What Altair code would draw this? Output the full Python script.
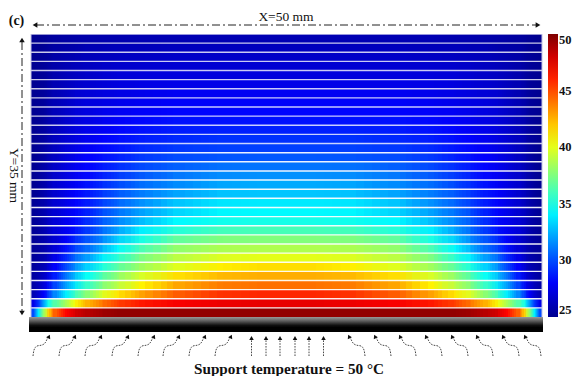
import altair as alt
import pandas as pd

# cell edges across the plate (left half, then mirrored), pixels of plot width
half_edges_px = [0, 5, 10, 15, 20, 30, 40, 50, 65, 80, 100, 130, 170, 210, 256]

# temperature read per strip (bottom strip first), left edge to centre, degC
strips = [
    [30,34,38,41,44.5,46.8,47.8,48.6,49.2,49.5,49.5,49.5,49.5,49.5],
    [27.5,29.5,32,34.5,36.5,38.5,40.5,42.5,44,45.3,46.3,47,47.3,47.4],
    [26,26.8,28,29.2,31.5,34,35.8,37.8,39.8,41.2,42.9,44.6,45.6,45.9],
    [25.7,26.2,27,27.9,29.8,32,33.8,35.7,37.6,39,40.9,42.8,43.8,44.1],
    [25.5,25.9,26.5,27.2,28.8,31,32.8,34.6,36.4,37.9,39.7,41.4,42.3,42.6],
    [25.4,25.7,26.1,26.7,28,29.9,31.6,33.3,35.1,36.6,38.3,39.9,41,41.4],
    [25.3,25.6,25.9,26.4,27.5,29.1,30.7,32,34,35.4,37.4,39,39.8,40],
    [25.3,25.5,25.8,26.2,27,28.5,29.7,30.8,32.5,34.3,36.2,38,38.6,38.7],
    [25.2,25.5,25.8,26.2,26.9,28,29.1,30.2,31.5,33.2,35,36.8,37.5,37.6],
    [25.2,25.5,25.9,26.4,27.1,27.8,28.5,29.5,30.8,32.1,34,35.3,36,36.1],
    [25.2,25.5,25.9,26.4,27,27.7,28.3,29.2,30.4,31.4,32.8,34.3,34.8,34.9],
    [25.2,25.5,25.9,26.3,26.9,27.6,28.1,28.9,30,30.9,32.1,33.4,34.2,34.3],
    [25.2,25.5,25.8,26.2,26.9,27.5,28.1,28.8,29.7,30.6,31.7,33,33.8,33.9],
    [25.1,25.4,25.8,26.2,26.8,27.5,28.1,28.7,29.5,30.3,31.2,32.2,32.9,33],
    [25.1,25.4,25.7,26.1,26.8,27.4,27.9,28.5,29.2,29.9,30.8,31.6,32.2,32.3],
    [25.1,25.4,25.7,26.1,26.7,27.3,27.8,28.3,28.9,29.5,30.3,31.1,31.6,31.7],
    [25.1,25.4,25.7,26,26.6,27.2,27.7,28.2,28.7,29.2,29.9,30.5,30.9,31],
    [25.1,25.3,25.6,26,26.5,27.1,27.6,28.1,28.5,28.9,29.5,30,30.2,30.3],
    [25.1,25.3,25.6,25.9,26.4,27,27.4,27.9,28.3,28.6,29.1,29.5,29.7,29.7],
    [25.1,25.3,25.5,25.9,26.4,26.9,27.3,27.7,28.1,28.4,28.8,29.1,29.3,29.3],
    [25.1,25.3,25.5,25.8,26.3,26.8,27.2,27.6,27.9,28.2,28.5,28.8,28.9,28.9],
    [25.1,25.2,25.5,25.8,26.2,26.7,27.1,27.4,27.7,28,28.3,28.5,28.5,28.5],
    [25.1,25.2,25.4,25.7,26.2,26.6,27,27.3,27.6,27.8,28,28.2,28.2,28.2],
    [25.1,25.2,25.4,25.7,26.1,26.5,26.9,27.2,27.4,27.6,27.8,28,28,28],
    [25.1,25.2,25.4,25.6,26,26.4,26.8,27,27.2,27.4,27.6,27.8,27.8,27.8],
    [25.1,25.2,25.3,25.6,26,26.3,26.6,26.8,27,27.2,27.4,27.5,27.5,27.5],
    [25.1,25.2,25.3,25.5,25.9,26.2,26.4,26.6,26.8,27,27.1,27.2,27.2,27.2],
    [25.1,25.2,25.3,25.5,25.8,26,26.2,26.4,26.6,26.7,26.8,26.9,26.9,26.9],
    [25.1,25.2,25.3,25.4,25.7,25.9,26,26.2,26.3,26.4,26.5,26.6,26.6,26.6],
    [25.1,25.1,25.2,25.4,25.6,25.7,25.8,26,26.1,26.2,26.2,26.3,26.3,26.3],
    [25,25.1,25.2,25.3,25.5,25.6,25.7,25.8,25.9,25.9,26,26,26,26],
]

# colourbar
jet = ["#00008f","#0000ff","#007fff","#00ffff","#7fff7f","#ffff00","#ff7f00","#ff0000","#7f0000"]
bar_ticks = [25, 30, 35, 40, 45, 50]
inner_ticks = [30, 35, 40, 45]

# annotation anchors, page pixels of the reference
curved_left = [33, 59, 85, 112, 138, 163, 189, 215]
curved_right = [365, 391, 416, 442, 468, 493, 519, 541]
straight = [251.5, 266, 280, 295, 309, 323.5]
wave = [(0, 0), (1, -6), (4, -10), (9, -11), (12, -13), (15, -19)]

# the reference image is soft: each cell is painted over itself at these sub-cell shifts
soft_shifts = [0.0, -0.4, 0.4, -0.2, 0.2]

SERIF = "Liberation Serif"
X0, Y1 = 31.0, 317.0
PXX, PXY = 511 / 50, 283 / 35
def mx(px): return (px - X0) / PXX
def my(py): return (Y1 - py) / PXY

x_s = alt.Scale(domain=[0, 50], nice=False, zero=False)
y_s = alt.Scale(domain=[0, 35], nice=False, zero=False)
X = alt.X("x:Q", scale=x_s, axis=None)
Y = alt.Y("y:Q", scale=y_s, axis=None)

strip_h = 35 / len(strips)
edges = half_edges_px + [511 - e for e in reversed(half_edges_px[:-1])]

def cell_frame(shift):
    # edges moved by a share of the local cell width, so the columns still tile the strip
    moved = []
    for i, e in enumerate(edges):
        if shift >= 0:
            w = edges[i] - edges[i - 1] if i > 0 else edges[1] - edges[0]
        else:
            w = edges[i + 1] - edges[i] if i < len(edges) - 1 else edges[-1] - edges[-2]
        moved.append(round(e + shift * w))
    rows = []
    for j, vals in enumerate(strips):
        full = vals + vals[::-1]
        for i, v in enumerate(full):
            rows.append(dict(y=j * strip_h, y2=(j + 1) * strip_h, t=v,
                             x=moved[i] / PXX, x2=moved[i + 1] / PXX))
    return pd.DataFrame(rows)

color_scale = alt.Scale(domain=[25, 50], range=jet, interpolate="rgb", nice=False, zero=False)
heat_layers = []
for n, s in enumerate(soft_shifts):
    legend = (alt.Legend(orient="none", legendX=517, legendY=0, title=None, type="gradient",
                         gradientLength=283, gradientThickness=10, gradientStrokeWidth=0,
                         values=bar_ticks, labelFont=SERIF, labelFontWeight="bold",
                         labelFontSize=12.5, labelColor="#111", labelOffset=1)
              if n == 0 else None)
    heat_layers.append(alt.Chart(cell_frame(s)).mark_rect(strokeWidth=0, clip=True, opacity=1 / (n + 1)).encode(
        x=X, x2="x2:Q", y=Y, y2="y2:Q",
        color=alt.Color("t:Q", scale=color_scale, legend=legend)))

# strip separators: crisp white low on the plate, softer towards the top
lower = pd.DataFrame({"y": [j * strip_h for j in range(1, 19)]})
upper = pd.DataFrame({"y": [j * strip_h for j in range(19, len(strips) + 1)]})
white_low = alt.Chart(lower).mark_rule(color="#ffffff", strokeWidth=1.4, opacity=0.92).encode(
    y=Y, x=alt.value(0), x2=alt.value(511))
white_up = alt.Chart(upper).mark_rule(color="#ffffff", strokeWidth=1.4, opacity=0.78).encode(
    y=Y, x=alt.value(0), x2=alt.value(511))

sides = alt.Chart(pd.DataFrame({"x": [0, 50]})).mark_rule(color="#c4c4e4", strokeWidth=1).encode(
    x=X, y=alt.value(0), y2=alt.value(283))

bar_marks = alt.Chart(pd.DataFrame({"y": [(t - 25) / 25 * 35 for t in inner_ticks]})).mark_rule(
    color="#333", strokeWidth=1, opacity=0.6).encode(y=Y, x=alt.value(517), x2=alt.value(520))

plate = alt.Chart(pd.DataFrame({"x": [mx(29)], "x2": [mx(543)], "y": [my(317)], "y2": [my(332)]})).mark_rect(
    strokeWidth=0,
    color=alt.Gradient(gradient="linear", x1=0, x2=0, y1=0, y2=1,
                       stops=[alt.GradientStop(color="#9a9a9a", offset=0),
                              alt.GradientStop(color="#606060", offset=0.25),
                              alt.GradientStop(color="#101010", offset=0.55),
                              alt.GradientStop(color="#000000", offset=0.7),
                              alt.GradientStop(color="#000000", offset=1)]),
).encode(x=X, x2="x2:Q", y=Y, y2="y2:Q")

dash = [8, 3, 2, 3]
hline = alt.Chart(pd.DataFrame({"x": [mx(36)], "x2": [mx(537)], "y": [my(25)]})).mark_rule(
    color="#222", strokeWidth=1, strokeDash=dash).encode(x=X, x2="x2:Q", y=Y)
vline = alt.Chart(pd.DataFrame({"x": [mx(22)], "y": [my(42)], "y2": [my(312)]})).mark_rule(
    color="#222", strokeWidth=1, strokeDash=dash).encode(x=X, y=Y, y2="y2:Q")

def head(px, py, shape):
    return alt.Chart(pd.DataFrame({"x": [mx(px)], "y": [my(py)]})).mark_point(
        shape=shape, filled=True, size=30, color="#111", opacity=1).encode(x=X, y=Y)

heads = [head(35, 25, "triangle-left"), head(538, 25, "triangle-right"),
         head(22, 40, "triangle-up"), head(22, 313, "triangle-down")]

arrow_rows = []
arrow_n = 0
for b in curved_left:
    for k, (dx, dy) in enumerate(wave):
        arrow_rows.append(dict(x=mx(b + dx), y=my(356 + dy), a=arrow_n, k=k))
    arrow_n += 1
for b in curved_right:
    for k, (dx, dy) in enumerate(wave):
        arrow_rows.append(dict(x=mx(b - dx), y=my(356 + dy), a=arrow_n, k=k))
    arrow_n += 1
for b in straight:
    arrow_rows.append(dict(x=mx(b), y=my(356), a=arrow_n, k=0))
    arrow_rows.append(dict(x=mx(b), y=my(339), a=arrow_n, k=1))
    arrow_n += 1
wavy = alt.Chart(pd.DataFrame(arrow_rows)).mark_line(
    color="#333", strokeWidth=0.9, strokeDash=[1.6, 1.2], interpolate="monotone").encode(
    x=X, y=Y, detail="a:N", order="k:Q")

def tips(xs, py, angle):
    return alt.Chart(pd.DataFrame({"x": [mx(v) for v in xs], "y": [my(py)] * len(xs)})).mark_point(
        shape="triangle-up", filled=True, size=20, color="#111", opacity=1, angle=angle).encode(x=X, y=Y)

tip_l = tips([b + 16 for b in curved_left], 336.5, 25)
tip_r = tips([b - 16 for b in curved_right], 336.5, 335)
tip_s = tips(straight, 338, 0)

def label(px, py, txt, size, bold=False, angle=0):
    return alt.Chart(pd.DataFrame({"x": [mx(px)], "y": [my(py)], "s": [txt]})).mark_text(
        font=SERIF, fontSize=size, fontWeight="bold" if bold else "normal", color="#111",
        angle=angle, align="center", baseline="middle").encode(x=X, y=Y, text="s:N")

texts = [label(16.5, 21, "(c)", 14, True),
         label(286, 16.5, "X=50 mm", 13.5),
         label(14, 175.5, "Y=35 mm", 13.5, False, 90),
         label(289, 368.5, "Support temperature = 50 °C", 15.2, True)]

chart = alt.layer(*heat_layers, white_low, white_up, sides, bar_marks, plate, hline, vline, *heads, wavy, tip_l, tip_r, tip_s, *texts).properties(
    width=511, height=283,
    autosize=alt.AutoSizeParams(type="none"),
    padding={"left": 23, "top": 26, "right": 30, "bottom": 59},
    background="white",
).configure_view(stroke=None)

chart.save("out.html", embed_options={"renderer": "svg", "actions": False})
